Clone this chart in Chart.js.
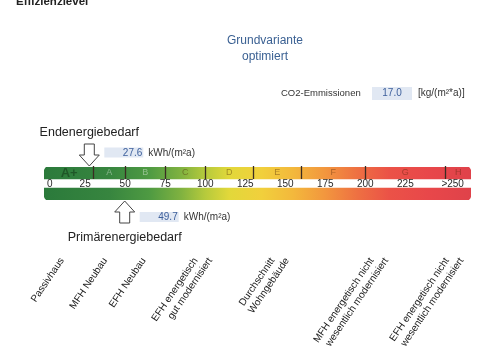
<!DOCTYPE html>
<html>
<head>
<meta charset="utf-8">
<script src="https://cdn.jsdelivr.net/npm/chart.js@4"></script>
<style>
    html, body { margin: 0; padding: 0; background: #fff; }
    #wrap { width: 494px; height: 350px; position: relative; }
</style>
</head>
<body>
<div id="wrap"><canvas id="chart"></canvas></div>
<script>
// Effizienzklassen (Grenzen in kWh/(m²a))
const classLabels = ['A+', 'A', 'B', 'C', 'D', 'E', 'F', 'G', 'H'];
const classBounds = [0, 30, 50, 75, 100, 130, 160, 200, 250, 266];

// Skala
const scaleTicks = [0, 25, 50, 75, 100, 125, 150, 175, 200, 225, 250];
const scaleTickLabels = ['0', '25', '50', '75', '100', '125', '150', '175', '200', '225', '>250'];
const scaleMin = -0.7;
const scaleMax = 266;

// Kennwerte
const endenergie = 27.6;
const primaerenergie = 49.7;
const co2Emission = 17.0;

// Vergleichswerte
const refLabels = [
    ['Passivhaus'],
    ['MFH Neubau'],
    ['EFH Neubau'],
    ['EFH energetisch', 'gut modernisiert'],
    ['Durchschnitt', 'Wohngebäude'],
    ['MFH energetisch nicht', 'wesentlich modernisiert'],
    ['EFH energetisch nicht', 'wesentlich modernisiert']
];
const refValues = [8, 35, 59, 96, 144, 206, 253];

const rows = ['Klassen', 'Skala', 'Bedarf'];

const FONT = '"Liberation Sans", Arial, sans-serif';

// Farbverlauf der Skala
function scaleGradient(chart) {
    const { ctx, chartArea, scales } = chart;
    if (!chartArea) return '#4a9444';
    const x = scales.x;
    const w = chartArea.right - chartArea.left;
    const g = ctx.createLinearGradient(chartArea.left, 0, chartArea.right, 0);
    const stops = [
        [0, '#2b7a3b'], [40, '#37853f'], [65, '#4e9a42'], [85, '#80b240'],
        [100, '#b6ca3c'], [115, '#e2d83a'], [135, '#f1d03c'], [155, '#f3b83c'],
        [175, '#f2963e'], [195, '#ee7042'], [215, '#eb5247'], [240, '#e8474a'],
        [266, '#df424a']
    ];
    stops.forEach(([v, c]) => {
        const f = (x.getPixelForValue(v) - chartArea.left) / w;
        g.addColorStop(Math.min(1, Math.max(0, f)), c);
    });
    return g;
}

function drawArrow(ctx, cx, yTip, dir) {
    // dir 1: Spitze unten, -1: Spitze oben
    const hw = 10, sw = 5, hh = 11, sh = 11;
    const yBase = yTip - dir * hh;
    const yEnd = yTip - dir * (hh + sh);
    ctx.beginPath();
    ctx.moveTo(cx - sw, yEnd);
    ctx.lineTo(cx + sw, yEnd);
    ctx.lineTo(cx + sw, yBase);
    ctx.lineTo(cx + hw, yBase);
    ctx.lineTo(cx, yTip);
    ctx.lineTo(cx - hw, yBase);
    ctx.lineTo(cx - sw, yBase);
    ctx.closePath();
    ctx.fillStyle = '#fff';
    ctx.fill();
    ctx.strokeStyle = '#444';
    ctx.lineWidth = 1;
    ctx.stroke();
}

function valueBox(ctx, left, cy, w, h, text) {
    ctx.fillStyle = '#e1e8f3';
    ctx.fillRect(left, cy - h / 2, w, h);
    ctx.fillStyle = '#3d5f9c';
    ctx.font = '10px ' + FONT;
    ctx.textAlign = 'right';
    ctx.textBaseline = 'middle';
    ctx.fillText(text, left + w - 1, cy + 0.5);
}

const annotations = {
    id: 'annotations',
    afterDatasetsDraw(chart) {
        const { ctx, scales } = chart;
        const x = scales.x;
        const meta = chart.getDatasetMeta(0);
        const topBar = meta.data[0];
        const botBar = meta.data[2];
        const topY0 = topBar.y - topBar.height / 2;
        const topY1 = topBar.y + topBar.height / 2;
        const botY1 = botBar.y + botBar.height / 2;
        ctx.save();

        // Klassengrenzen
        ctx.strokeStyle = '#3a2c22';
        ctx.lineWidth = 1.3;
        classBounds.slice(1, -1).forEach(b => {
            const px = Math.round(x.getPixelForValue(b)) + 0.5;
            ctx.beginPath();
            ctx.moveTo(px, topY0);
            ctx.lineTo(px, topY1);
            ctx.stroke();
        });

        // Klassenbuchstaben
        ctx.textAlign = 'center';
        ctx.textBaseline = 'middle';
        classLabels.forEach((lab, i) => {
            const cx = x.getPixelForValue((classBounds[i] + classBounds[i + 1]) / 2);
            if (lab === 'A+') {
                ctx.font = 'bold 13px ' + FONT;
                ctx.fillStyle = 'rgba(20,60,25,0.6)';
            } else if (i < 3) {
                ctx.font = '9px ' + FONT;
                ctx.fillStyle = 'rgba(255,255,255,0.4)';
            } else {
                ctx.font = '9px ' + FONT;
                ctx.fillStyle = 'rgba(70,30,0,0.42)';
            }
            ctx.fillText(lab, cx, topBar.y + 0.5);
        });

        // Skalenbeschriftung
        ctx.font = '10px ' + FONT;
        ctx.fillStyle = '#2a2a2a';
        const tickY = (topY1 + botBar.y - botBar.height / 2) / 2 + 0.5;
        scaleTicks.forEach((t, i) => {
            let px = x.getPixelForValue(t);
            ctx.textAlign = 'center';
            if (i === 0) { ctx.textAlign = 'left'; px += 2; }
            if (i === scaleTicks.length - 1) { ctx.textAlign = 'left'; px -= 4; }
            ctx.fillText(scaleTickLabels[i], px, tickY);
        });

        // Endenergie
        const ex = x.getPixelForValue(endenergie);
        drawArrow(ctx, ex, topY0, 1);
        valueBox(ctx, ex + 15, topY0 - 13.5, 39, 10, endenergie.toFixed(1));
        ctx.font = '10px ' + FONT;
        ctx.fillStyle = '#333';
        ctx.textAlign = 'left';
        ctx.fillText('kWh/(m²a)', ex + 59, topY0 - 13);
        ctx.font = '12.5px ' + FONT;
        ctx.fillStyle = '#222';
        ctx.textAlign = 'center';
        ctx.fillText('Endenergiebedarf', ex, 133);

        // Primärenergie
        const px = x.getPixelForValue(primaerenergie);
        drawArrow(ctx, px, botY1, -1);
        valueBox(ctx, px + 15, botY1 + 16, 39, 10, primaerenergie.toFixed(1));
        ctx.font = '10px ' + FONT;
        ctx.fillStyle = '#333';
        ctx.textAlign = 'left';
        ctx.fillText('kWh/(m²a)', px + 59, botY1 + 16.5);
        ctx.font = '12.5px ' + FONT;
        ctx.fillStyle = '#222';
        ctx.textAlign = 'center';
        ctx.fillText('Primärenergiebedarf', px, 238);

        // Kopf
        ctx.font = 'bold 11.5px ' + FONT;
        ctx.fillStyle = '#222';
        ctx.textAlign = 'left';
        ctx.textBaseline = 'alphabetic';
        ctx.fillText('Effizienzlevel', 16, 5);
        ctx.font = '12px ' + FONT;
        ctx.fillStyle = '#3b6193';
        ctx.textAlign = 'center';
        ctx.textBaseline = 'middle';
        ctx.fillText('Grundvariante', 265, 41);
        ctx.fillText('optimiert', 265, 57);

        // CO2
        ctx.font = '9.5px ' + FONT;
        ctx.fillStyle = '#333';
        ctx.textAlign = 'left';
        ctx.fillText('CO2-Emmissionen', 281, 93.5);
        ctx.fillStyle = '#e1e8f3';
        ctx.fillRect(372, 87, 40, 13);
        ctx.fillStyle = '#3d5f9c';
        ctx.textAlign = 'center';
        ctx.font = '10px ' + FONT;
        ctx.fillText(co2Emission.toFixed(1), 392, 93.5);
        ctx.fillStyle = '#333';
        ctx.textAlign = 'left';
        ctx.fillText('[kg/(m²*a)]', 418, 93.5);

        // Vergleichswerte
        ctx.font = '10px ' + FONT;
        ctx.fillStyle = '#1a1a1a';
        ctx.textAlign = 'right';
        ctx.textBaseline = 'top';
        refLabels.forEach((lines, i) => {
            const ax = x.getPixelForValue(refValues[i]);
            lines.forEach((line, j) => {
                const lx = ax + (j - (lines.length - 1) / 2) * 14.5;
                ctx.save();
                ctx.translate(lx, 256);
                ctx.rotate(-56 * Math.PI / 180);
                ctx.fillText(line, 0, 0);
                ctx.restore();
            });
        });

        ctx.restore();
    }
};

new Chart(document.getElementById('chart'), {
    type: 'bar',
    data: {
        labels: rows,
        datasets: [{
            label: 'Skala',
            data: [[scaleMin, scaleMax], null, [scaleMin, scaleMax]],
            backgroundColor: ctx => scaleGradient(ctx.chart),
            borderSkipped: false,
            borderWidth: 0,
            barThickness: 13,
            borderRadius: ctx => ctx.dataIndex === 0
                ? { topLeft: 7, topRight: 7, bottomLeft: 0, bottomRight: 0 }
                : { topLeft: 0, topRight: 0, bottomLeft: 7, bottomRight: 7 }
        }]
    },
    options: {
        indexAxis: 'y',
        responsive: true,
        maintainAspectRatio: false,
        animation: false,
        layout: {
            padding: { left: 44, right: 23, top: 167, bottom: 150 }
        },
        plugins: {
            legend: { display: false },
            tooltip: { enabled: false }
        },
        scales: {
            x: { type: 'linear', min: scaleMin, max: scaleMax, display: false },
            y: { display: false }
        }
    },
    plugins: [annotations]
});
</script>
</body>
</html>
